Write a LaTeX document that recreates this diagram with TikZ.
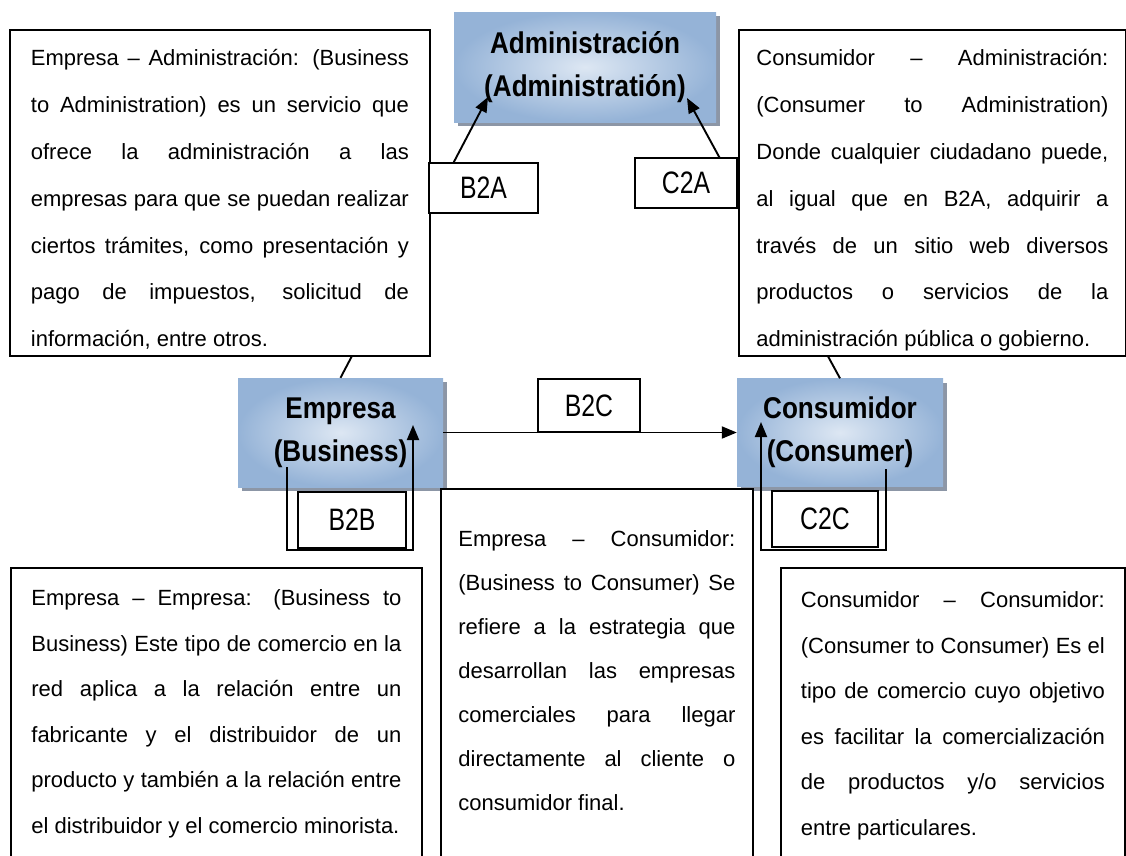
\documentclass[tikz,border=0pt]{standalone}
\usepackage{fontspec}
\setmainfont{Liberation Sans}
\newfontfamily\headfont[FakeStretch=0.87]{Liberation Sans}
\newfontfamily\tagfont[FakeStretch=0.8]{Liberation Sans}
\usetikzlibrary{arrows.meta,shadows}
\hyphenpenalty=10000
\tolerance=10000
\definecolor{boxlight}{RGB}{221,231,243}
\definecolor{boxdark}{RGB}{149,179,215}
\definecolor{boxshadow}{RGB}{140,150,166}
\newcommand{\gapup}[1]{\rule{0pt}{#1}}
\newcommand{\gapdown}[1]{\rule[-#1]{0pt}{#1}}
\tikzset{
    entity/.style={rectangle, inner color=boxlight, outer color=boxdark, inner sep=0pt, align=center,
        font=\headfont\bfseries\fontsize{30}{43}\selectfont,
        drop shadow={shadow xshift=4pt, shadow yshift=-4pt, fill=boxshadow, opacity=1}},
    desc/.style={draw, fill=white, line width=1.8pt, align=justify, inner ysep=0pt, anchor=north west,
        font=\fontsize{22}{46.8}\selectfont},
    tagbox/.style={draw, fill=white, line width=1.8pt, inner sep=0pt, font=\tagfont\fontsize{31}{31}\selectfont},
    link/.style={line width=1.9pt, -{Triangle[length=15pt,width=12pt]}}
}
\begin{document}
\begin{tikzpicture}[x=1pt, y=-1pt]
    \useasboundingbox (0,0) rectangle (1126,855);
    % the three actors
    \node[entity, minimum width=262pt, minimum height=110pt] (adm) at (585,67) {Administración\\(Administratión)};
    \node[entity, minimum width=205pt, minimum height=109pt] (emp) at (340.5,432.5) {Empresa\\(Business)};
    \node[entity, minimum width=206pt, minimum height=108pt] (con) at (840,432.5) {Consumidor\\(Consumer)};
    % free ends of the connectors
    \coordinate (b2aend) at (488,97);
    \coordinate (c2aend) at (687,98);
    \coordinate (b2bstart) at (287,467);
    \coordinate (b2bend) at (413,425);
    \coordinate (c2cstart) at (886,469);
    \coordinate (c2cend) at (761,422);
    % connectors
    \draw[link] (emp.north) -- (b2aend);
    \draw[link] (con.north) -- (c2aend);
    \draw[link] (emp.east) -- (con.west);
    \draw[link] (b2bstart) -- ++(0,83) -| (b2bend);
    \draw[link] (c2cstart) -- ++(0,81) -| (c2cend);
    % descriptions
    \node[desc, text width=378pt, inner xsep=21pt] (dba) at (9,29) {\gapup{36pt}Empresa – Administración: (Business\linebreak to Administration) es un servicio que\linebreak ofrece la administración a las\linebreak empresas para que se puedan realizar\linebreak ciertos trámites, como presentación y\linebreak pago de impuestos, solicitud de\linebreak información, entre otros.\gapdown{9pt}};
    \node[desc, text width=352pt, inner xsep=17.5pt] (dca) at (738,29) {\gapup{36pt}Consumidor – Administración:\linebreak (Consumer to Administration)\linebreak Donde cualquier ciudadano puede,\linebreak al igual que en B2A, adquirir a\linebreak través de un sitio web diversos\linebreak productos o servicios de la\linebreak administración pública o gobierno.\gapdown{9pt}};
    \node[desc, text width=370pt, inner xsep=20.5pt, font=\fontsize{22}{45.5}\selectfont] (dbb) at (10,567) {\gapup{38pt}Empresa – Empresa: (Business to\linebreak Business) Este tipo de comercio en la\linebreak red aplica a la relación entre un\linebreak fabricante y el distribuidor de un\linebreak producto y también a la relación entre\linebreak el distribuidor y el comercio minorista.\gapdown{40pt}};
    \node[desc, text width=277pt, inner xsep=17.5pt, font=\fontsize{22}{44}\selectfont] (dbc) at (440,488) {\gapup{58pt}Empresa – Consumidor:\linebreak (Business to Consumer) Se\linebreak refiere a la estrategia que\linebreak desarrollan las empresas\linebreak comerciales para llegar\linebreak directamente al cliente o\linebreak consumidor final.\gapdown{50pt}};
    \node[desc, text width=304pt, inner xsep=20pt, font=\fontsize{22}{45.5}\selectfont] (dcc) at (780,567) {\gapup{40pt}Consumidor – Consumidor:\linebreak (Consumer to Consumer) Es el\linebreak tipo de comercio cuyo objetivo\linebreak es facilitar la comercialización\linebreak de productos y/o servicios\linebreak entre particulares.\gapdown{40pt}};
    % labels of the relations
    \node[tagbox, minimum width=109pt, minimum height=50pt] (tba) at (483.5,188) {B2A};
    \node[tagbox, minimum width=102pt, minimum height=50pt] (tca) at (686,183) {C2A};
    \node[tagbox, minimum width=102pt, minimum height=53pt] (tbc) at (589,405.5) {B2C};
    \node[tagbox, minimum width=108pt, minimum height=56pt] (tbb) at (352,520) {B2B};
    \node[tagbox, minimum width=106pt, minimum height=56pt] (tcc) at (825,519) {C2C};
\end{tikzpicture}
\end{document}
